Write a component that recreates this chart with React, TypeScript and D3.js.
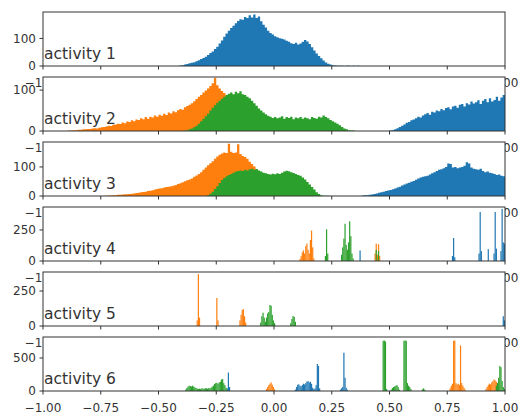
import React from 'react';
import * as d3 from 'd3';

const W = 519;
const H = 416;
const plotLeft = 43;
const plotRight = 505;
const firstTop = 12;
const panelH = 54;
const panelStep = 65;

const colors = { blue: '#1f77b4', orange: '#ff7f0e', green: '#2ca02c' };

const titles = ['activity 1', 'activity 2', 'activity 3', 'activity 4', 'activity 5', 'activity 6'];
const yMax = [196, 132, 186, 435, 386, 818];
const yTicks = [[0, 100], [0, 100], [0, 100], [0, 250], [0, 250], [0, 500]];
const xTicks = [-1, -0.75, -0.5, -0.25, 0, 0.25, 0.5, 0.75, 1];

// broad histograms: bins of 0.01 from a start value
const binW = 0.01;

const a1BlueStart = -0.41;
const a1Blue = [
  2, 3, 5, 7, 10, 12, 14, 17, 21, 25,
  29, 34, 40, 47, 53, 62, 70, 82, 93, 106,
  118, 128, 138, 146, 155, 163, 170, 168, 178, 174,
  184, 176, 187, 174, 180, 162, 150, 140, 128, 120,
  114, 108, 104, 101, 99, 96, 92, 88, 83, 80,
  84, 78, 82, 88, 94, 89, 80, 68, 56, 45,
  36, 28, 20, 13, 8, 5, 3, 2, 1, 1,
  1, 0, 1, 1, 0, 1, 0, 1,
];

const a2OrangeStart = -0.89;
const a2Orange = [
  1, 1, 2, 2, 3, 3, 4, 4, 5, 5,
  6, 7, 6, 8, 9, 10, 11, 13, 12, 15,
  16, 18, 17, 21, 19, 23, 22, 26, 24, 28,
  27, 31, 29, 34, 30, 35, 33, 38, 35, 40,
  37, 42, 39, 45, 43, 48, 46, 51, 54, 52,
  58, 61, 64, 68, 73, 78, 84, 88, 94, 99,
  104, 110, 117, 130, 112, 104, 98, 93, 86, 74,
  60, 45, 32, 22, 14, 8, 4, 2,
];
const a2GreenStart = -0.39;
const a2Green = [
  1, 2, 4, 6, 9, 13, 18, 24, 30, 36,
  42, 50, 57, 63, 69, 74, 79, 84, 88, 91,
  94, 90, 96, 92, 97, 90, 88, 84, 80, 74,
  68, 62, 55, 50, 45, 41, 37, 35, 32, 34,
  31, 33, 36, 30, 34, 32, 35, 29, 33, 31,
  34, 30, 33, 31, 29, 34, 32, 30, 35, 33,
  38, 34, 31, 27, 24, 21, 18, 14, 10, 6,
  4, 2, 1, 1,
];
const a2BlueStart = 0.5;
const a2Blue = [
  1, 2, 4, 7, 10, 13, 16, 20, 22, 26,
  28, 31, 35, 33, 38, 41, 44, 40, 47, 45,
  50, 48, 54, 51, 56, 58, 53, 60, 62, 57,
  64, 66, 60, 68, 65, 72, 67, 70, 75, 66,
  74, 78, 70, 80, 72, 76, 84, 74, 82, 88,
];

const a3OrangeStart = -0.74;
const a3Orange = [
  1, 1, 2, 2, 3, 3, 4, 4, 5, 6,
  6, 7, 8, 9, 10, 11, 13, 14, 15, 17,
  18, 20, 22, 24, 26, 27, 29, 31, 32, 34,
  35, 38, 41, 44, 47, 51, 54, 57, 60, 66,
  71, 76, 82, 90, 98, 106, 113, 120, 128, 136,
  142, 146, 150, 148, 180, 152, 148, 150, 178, 145,
  138, 134, 128, 118, 110, 102, 92, 80, 66, 52,
  40, 28, 18, 10, 5, 2,
];
const a3GreenStart = -0.29;
const a3Green = [
  3, 8, 15, 24, 34, 45, 55, 62, 68, 72,
  76, 80, 84, 86, 88, 86, 90, 88, 92, 94,
  90, 93, 88, 84, 80, 78, 76, 74, 77, 75,
  78, 76, 80, 84, 87, 85, 82, 79, 76, 72,
  70, 64, 57, 48, 40, 31, 22, 13, 7, 3,
  1, 1, 1,
];
const a3BlueStart = 0.38;
const a3Blue = [
  2, 3, 3, 4, 5, 7, 9, 11, 13, 15,
  17, 19, 21, 23, 26, 29, 32, 36, 40, 43,
  46, 49, 52, 56, 60, 64, 66, 68, 70, 74,
  78, 82, 86, 90, 92, 96, 100, 112, 110, 98,
  100, 96, 98, 100, 104, 116, 112, 98, 94, 92,
  90, 94, 86, 82, 84, 80, 78, 76, 72, 74,
  70, 68,
];

// narrow spikes: [bin start, count], bins of 0.005
const spikeW = 0.005;

const a4Blue = [
  [0.37, 85], [0.77, 40], [0.775, 185], [0.78, 30], [0.885, 60], [0.89, 395], [0.895, 80],
  [0.925, 95], [0.95, 60], [0.955, 395], [0.96, 100], [0.98, 80], [0.985, 420], [0.99, 150], [0.995, 140],
];
const a4Orange = [
  [0.11, 15], [0.115, 40], [0.12, 70], [0.125, 85], [0.13, 60], [0.135, 120], [0.14, 140],
  [0.145, 90], [0.15, 60], [0.155, 170], [0.16, 245], [0.165, 110], [0.17, 20],
  [0.435, 60], [0.44, 140], [0.445, 50], [0.45, 135], [0.455, 40],
];
const a4Green = [
  [0.22, 40], [0.225, 255], [0.23, 60],
  [0.29, 50], [0.295, 110], [0.3, 180], [0.305, 300], [0.31, 130], [0.315, 90], [0.32, 150],
  [0.325, 320], [0.33, 200], [0.335, 60], [0.34, 20],
  [0.44, 90], [0.45, 80],
];

const a5Blue = [[0.99, 70], [0.995, 40]];
const a5Orange = [
  [-0.335, 40], [-0.33, 372], [-0.325, 60], [-0.25, 200], [-0.245, 40],
  [-0.15, 40], [-0.145, 80], [-0.14, 115], [-0.135, 120], [-0.13, 70], [-0.125, 25],
];
const a5Green = [
  [-0.06, 25], [-0.055, 70], [-0.05, 95], [-0.045, 60], [-0.04, 30], [-0.035, 60], [-0.03, 90],
  [-0.025, 100], [-0.02, 150], [-0.015, 145], [-0.01, 80], [-0.005, 40], [0, 20],
  [0.07, 20], [0.075, 50], [0.08, 72], [0.085, 65], [0.09, 30],
];

const a6Blue = [
  [-0.205, 40], [-0.2, 280], [-0.195, 60],
  [0.09, 20], [0.095, 60], [0.1, 95], [0.105, 100], [0.11, 80], [0.115, 70], [0.12, 90], [0.125, 110],
  [0.13, 100], [0.135, 120], [0.14, 145], [0.145, 150], [0.15, 130], [0.155, 140], [0.16, 110],
  [0.165, 50], [0.17, 30], [0.175, 40], [0.18, 90], [0.185, 410], [0.19, 380], [0.195, 40],
  [0.285, 20], [0.29, 40], [0.295, 60], [0.3, 580], [0.305, 200], [0.31, 50], [0.315, 20],
];
const a6Orange = [
  [-0.035, 30], [-0.03, 60], [-0.025, 90], [-0.02, 110], [-0.015, 130], [-0.01, 95], [-0.005, 60], [0, 25],
  [0.76, 40], [0.765, 80], [0.77, 110], [0.775, 760], [0.78, 765], [0.785, 120], [0.79, 100],
  [0.795, 110], [0.8, 90], [0.805, 690], [0.81, 120], [0.815, 80], [0.82, 50], [0.825, 20],
  [0.915, 30], [0.92, 60], [0.925, 90], [0.93, 110], [0.935, 100], [0.94, 130], [0.945, 150],
  [0.95, 175], [0.955, 160], [0.96, 140], [0.965, 100], [0.97, 80],
];
const a6Green = [
  [-0.385, 20], [-0.38, 45], [-0.375, 65], [-0.37, 80], [-0.365, 75], [-0.36, 70], [-0.355, 80],
  [-0.35, 65], [-0.345, 55], [-0.34, 45], [-0.335, 38], [-0.33, 30], [-0.325, 35], [-0.32, 32],
  [-0.315, 40], [-0.31, 38], [-0.305, 35], [-0.3, 42], [-0.295, 40], [-0.29, 36], [-0.285, 45],
  [-0.28, 40], [-0.275, 50], [-0.27, 65], [-0.265, 80], [-0.26, 105], [-0.255, 120], [-0.25, 125],
  [-0.245, 110], [-0.24, 130], [-0.235, 140], [-0.23, 175], [-0.225, 180], [-0.22, 120],
  [-0.215, 90], [-0.21, 50], [-0.205, 20],
  [0.47, 760], [0.475, 765], [0.48, 750], [0.485, 30],
  [0.505, 20], [0.51, 45], [0.515, 60], [0.52, 70], [0.525, 80], [0.53, 90], [0.535, 60], [0.54, 20],
  [0.56, 760], [0.565, 765], [0.57, 760], [0.575, 120], [0.58, 80], [0.585, 60], [0.59, 30],
  [0.64, 25], [0.645, 40], [0.65, 20],
  [0.96, 80], [0.965, 120], [0.97, 200], [0.975, 380], [0.98, 360], [0.985, 150], [0.99, 60], [0.995, 30],
];

type Broad = { start: number; counts: number[]; color: string };
type Spikes = { bins: number[][]; color: string };

const broadByPanel: Broad[][] = [
  [{ start: a1BlueStart, counts: a1Blue, color: colors.blue }],
  [
    { start: a2BlueStart, counts: a2Blue, color: colors.blue },
    { start: a2OrangeStart, counts: a2Orange, color: colors.orange },
    { start: a2GreenStart, counts: a2Green, color: colors.green },
  ],
  [
    { start: a3BlueStart, counts: a3Blue, color: colors.blue },
    { start: a3OrangeStart, counts: a3Orange, color: colors.orange },
    { start: a3GreenStart, counts: a3Green, color: colors.green },
  ],
  [], [], [],
];

const spikesByPanel: Spikes[][] = [
  [], [], [],
  [{ bins: a4Blue, color: colors.blue }, { bins: a4Orange, color: colors.orange }, { bins: a4Green, color: colors.green }],
  [{ bins: a5Blue, color: colors.blue }, { bins: a5Orange, color: colors.orange }, { bins: a5Green, color: colors.green }],
  [{ bins: a6Blue, color: colors.blue }, { bins: a6Orange, color: colors.orange }, { bins: a6Green, color: colors.green }],
];

const x = d3.scaleLinear().domain([-1, 1]).range([plotLeft, plotRight]);
const fmt = d3.format('.2f');
const ink = '#333';
const font = 'DejaVu Sans, sans-serif';

function Panel({ i }: { i: number }) {
  const top = firstTop + i * panelStep;
  const bottom = top + panelH;
  const y = d3.scaleLinear().domain([0, yMax[i]]).range([bottom, top]);

  const area = d3
    .area<number[]>()
    .x((d) => x(d[0]))
    .y0(bottom)
    .y1((d) => y(d[1]))
    .curve(d3.curveStepAfter);

  return (
    <g>
      <rect x={plotLeft} y={top} width={plotRight - plotLeft} height={panelH} fill="white" />
      {broadByPanel[i].map((s, k) => {
        const pts = s.counts.map((c, j) => [s.start + j * binW, c]);
        pts.push([s.start + s.counts.length * binW, s.counts[s.counts.length - 1]]);
        return <path key={k} d={area(pts) || ''} fill={s.color} />;
      })}
      {spikesByPanel[i].map((s, k) => (
        <g key={k} fill={s.color}>
          {s.bins.map(([b, c], j) => {
            const x0 = x(b);
            const w = Math.max(1.2, x(b + spikeW) - x0);
            return <rect key={j} x={x0} y={y(c)} width={w} height={bottom - y(c)} />;
          })}
        </g>
      ))}
      <rect x={plotLeft} y={top} width={plotRight - plotLeft} height={panelH} fill="none" stroke={ink} strokeWidth={1} />
      {xTicks.map((t) => (
        <g key={t}>
          <line x1={x(t)} x2={x(t)} y1={bottom} y2={bottom + 3.5} stroke={ink} />
          <text x={x(t)} y={bottom + 20.5} textAnchor="middle" fontSize={12} fontFamily={font} fill={ink}>
            {fmt(t)}
          </text>
        </g>
      ))}
      {yTicks[i].map((t) => (
        <g key={t}>
          <line x1={plotLeft - 3.5} x2={plotLeft} y1={y(t)} y2={y(t)} stroke={ink} />
          <text x={plotLeft - 7} y={y(t)} dy="0.36em" textAnchor="end" fontSize={12} fontFamily={font} fill={ink}>
            {t}
          </text>
        </g>
      ))}
      <text x={plotLeft + 1} y={bottom - 7} fontSize={15.5} fontFamily={font} fill={ink}>
        {titles[i]}
      </text>
    </g>
  );
}

export default function App() {
  return (
    <svg width={W} height={H} style={{ position: 'absolute', left: 0, top: 0 }}>
      <rect width={W} height={H} fill="white" />
      {titles.map((_, i) => (
        <Panel key={i} i={i} />
      ))}
    </svg>
  );
}
